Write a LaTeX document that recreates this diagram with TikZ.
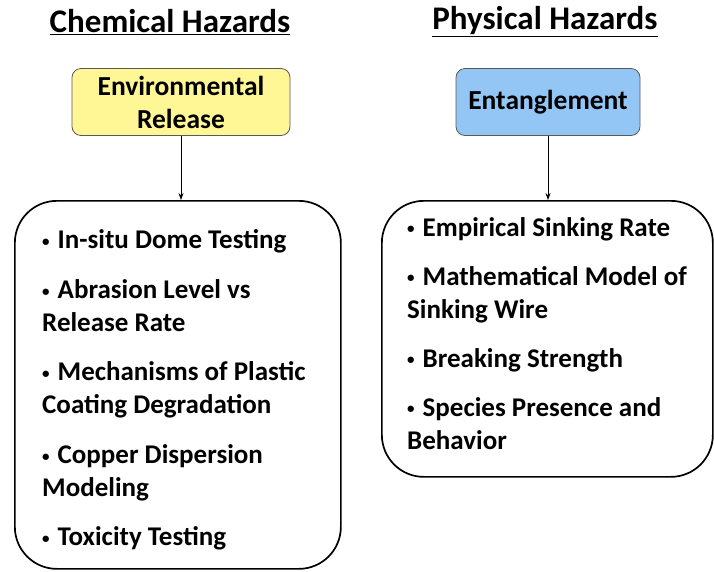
\documentclass[tikz,border=0pt]{standalone}
\usepackage{fontspec}
\setmainfont{Carlito}
\usetikzlibrary{positioning,arrows.meta}
\definecolor{releasefill}{RGB}{255,247,150}
\definecolor{entanglefill}{RGB}{148,198,245}
\newcommand{\smallbul}{{\fontsize{15}{15}\selectfont\raisebox{0.3ex}{•}}\hspace{8pt}}
\tikzset{
  hazard/.style={font=\bfseries\fontsize{33}{38}\selectfont, inner sep=0pt},
  source/.style={draw=black!65, line width=0.8pt, rounded corners=9pt, align=center,
    font=\bfseries\fontsize{27.5}{33}\selectfont, minimum height=67pt},
  panel/.style={draw, line width=1.7pt, rounded corners=42pt, anchor=north west},
  items/.style={align=left, anchor=north west, inner sep=0pt,
    font=\bfseries\fontsize{27}{33}\selectfont},
  link/.style={-{Stealth[length=7pt,width=5pt]}, line width=0.7pt}
}
\begin{document}
\begin{tikzpicture}[x=1pt,y=-1pt]
  \useasboundingbox (0,0) rectangle (714,571);
  % titles
  \node[hazard] (chemtitle) at (170,22) {\underline{Chemical Hazards}};
  \node[hazard] (phystitle) at (545,22) {\underline{Physical Hazards}};
  % source boxes
  \node[source, fill=releasefill, minimum width=218pt] (release) at (181,102) {Environmental\\Release};
  \node[source, fill=entanglefill, minimum width=184pt] (entangle) at (548,102) {Entanglement};
  % panels
  \node[panel, minimum width=326pt, minimum height=368pt] (chempanel) at (14,200) {};
  \node[panel, minimum width=331pt, minimum height=276pt] (physpanel) at (381,200) {};
  \draw[link] (release.south) -- (release.south |- chempanel.north);
  \draw[link] (entangle.south) -- (entangle.south |- physpanel.north) ;
  % lists
  \node[items] (chemlist) at (42,229) {%
    \smallbul In-situ Dome Testing\\[17pt]
    \smallbul Abrasion Level vs\\
    Release Rate\\[16.5pt]
    \smallbul Mechanisms of Plastic\\
    Coating Degradation\\[16.5pt]
    \smallbul Copper Dispersion\\
    Modeling\\[16.5pt]
    \smallbul Toxicity Testing};
  \node[items] (physlist) at (407,217) {%
    \smallbul Empirical Sinking Rate\\[16pt]
    \smallbul Mathematical Model of\\
    Sinking Wire\\[16pt]
    \smallbul Breaking Strength\\[16pt]
    \smallbul Species Presence and\\
    Behavior};
\end{tikzpicture}
\end{document}
